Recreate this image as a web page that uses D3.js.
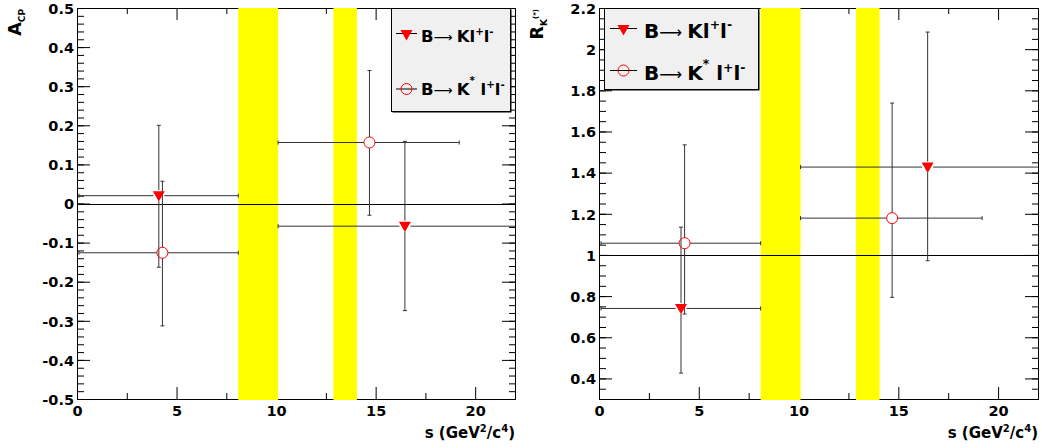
<!DOCTYPE html>
<html>
<head>
<meta charset="utf-8">
<script src="https://cdn.jsdelivr.net/npm/d3@7"></script>
<style>
  body { margin: 0; background: #fff; }
  text { font-family: "DejaVu Sans", sans-serif; font-weight: bold; }
</style>
</head>
<body>
<div id="viz"></div>
<script>
/*** data ***/
// veto bands (J/psi, psi(2S))
const vetoLo = [8.1, 12.88];
const vetoHi = [10.1, 14.06];

// bins in s
const binLo = [0.1, 10.1];
const binHiKll = [8.1, 22.9];
const binHiKst = [8.1, 19.2];
const sKll = [4.11, 16.47];
const sKst = [4.29, 14.69];

// A_CP
const acpKll = [0.02, -0.058];
const acpKllUp = [0.18, 0.217];
const acpKllDn = [0.183, 0.216];
const acpKst = [-0.126, 0.156];
const acpKstUp = [0.183, 0.184];
const acpKstDn = [0.187, 0.186];

// R_K(*)
const rKll = [0.74, 1.427];
const rKllUp = [0.395, 0.656];
const rKllDn = [0.314, 0.455];
const rKst = [1.057, 1.179];
const rKstUp = [0.478, 0.559];
const rKstDn = [0.344, 0.385];

const xMajor = [0, 5, 10, 15, 20];
const xMinor = [2.5, 7.5, 12.5, 17.5];
const acpMajor = d3.range(-5, 6).map(d => d / 10);
const acpMinor = d3.range(-25, 26).map(d => d / 50);
const rMajor = d3.range(2, 12).map(d => d / 5);
const rMinor = d3.range(6, 45).map(d => d / 20);

/*** global ***/
const width = 1042, height = 448;
const red = "#ff0000", ink = "#333";

const svg = d3.select("#viz").append("svg")
  .attr("width", width).attr("height", height);

function series(xs, lo, hi, ys, up, dn) {
  return xs.map((x, i) => ({x: x, lo: lo[i], hi: hi[i], y: ys[i], up: up[i], dn: dn[i]}));
}

function drawPanel(cfg) {
  const x = d3.scaleLinear().domain([0, 22]).range([cfg.left, cfg.right]);
  const y = d3.scaleLinear().domain(cfg.yDomain).range([cfg.bottom, cfg.top]);
  const g = svg.append("g");
  const fmt = d => String(+d.toFixed(1));

  // axes (ROOT style, ticks inside)
  g.append("g").attr("transform", `translate(0,${cfg.bottom})`)
    .call(d3.axisBottom(x).tickValues(xMajor).tickSize(-12).tickPadding(6.5).tickFormat(fmt))
    .call(a => a.select(".domain").remove())
    .call(a => a.selectAll("text").attr("font-size", 14.5).attr("fill", "#000")
      .style("font-family", "DejaVu Sans").style("font-weight", "bold"));
  g.append("g").attr("transform", `translate(0,${cfg.bottom})`)
    .call(d3.axisBottom(x).tickValues(xMinor).tickSize(-6).tickFormat(""))
    .call(a => a.select(".domain").remove());
  g.append("g").attr("transform", `translate(0,${cfg.top})`)
    .call(d3.axisTop(x).tickValues(xMajor).tickSize(-12).tickFormat(""))
    .call(a => a.select(".domain").remove());
  g.append("g").attr("transform", `translate(0,${cfg.top})`)
    .call(d3.axisTop(x).tickValues(xMinor).tickSize(-6).tickFormat(""))
    .call(a => a.select(".domain").remove());

  g.append("g").attr("transform", `translate(${cfg.left},0)`)
    .call(d3.axisLeft(y).tickValues(cfg.yMajor).tickSize(-13).tickPadding(3).tickFormat(fmt))
    .call(a => a.select(".domain").remove())
    .call(a => a.selectAll("text").attr("font-size", 14.5).attr("fill", "#000").attr("dy", "0.36em")
      .style("font-family", "DejaVu Sans").style("font-weight", "bold"));
  g.append("g").attr("transform", `translate(${cfg.left},0)`)
    .call(d3.axisLeft(y).tickValues(cfg.yMinor).tickSize(-7).tickFormat(""))
    .call(a => a.select(".domain").remove());
  g.append("g").attr("transform", `translate(${cfg.right},0)`)
    .call(d3.axisRight(y).tickValues(cfg.yMajor).tickSize(-13).tickFormat(""))
    .call(a => a.select(".domain").remove());
  g.append("g").attr("transform", `translate(${cfg.right},0)`)
    .call(d3.axisRight(y).tickValues(cfg.yMinor).tickSize(-6).tickFormat(""))
    .call(a => a.select(".domain").remove());
  g.selectAll(".tick line").attr("stroke", "#000");

  g.append("rect")
    .attr("x", cfg.left + 0.5).attr("y", cfg.top + 0.5)
    .attr("width", cfg.right - cfg.left).attr("height", cfg.bottom - cfg.top)
    .attr("fill", "none").attr("stroke", "#000");

  // yellow veto bands
  g.append("g").selectAll("rect")
    .data(d3.zip(vetoLo, vetoHi))
    .join("rect")
    .attr("x", d => x(d[0])).attr("width", d => x(d[1]) - x(d[0]))
    .attr("y", cfg.top).attr("height", cfg.bottom - cfg.top + 1)
    .attr("fill", "#ffff00");

  // reference line
  g.append("line")
    .attr("x1", cfg.left).attr("x2", cfg.right)
    .attr("y1", Math.round(y(cfg.ref)) + 0.5).attr("y2", Math.round(y(cfg.ref)) + 0.5)
    .attr("stroke", "#000");

  const clipId = "clip" + cfg.id;
  svg.append("clipPath").attr("id", clipId).append("rect")
    .attr("x", cfg.left).attr("y", cfg.top)
    .attr("width", cfg.right - cfg.left).attr("height", cfg.bottom - cfg.top);
  const plot = g.append("g").attr("clip-path", `url(#${clipId})`);

  const r = 5.5;
  function errors(data) {
    const e = plot.append("g").attr("stroke", ink).attr("stroke-width", 1);
    data.forEach(d => {
      const cx = x(d.x), cy = y(d.y);
      const segs = [
        [x(d.lo), cy, cx - r, cy], [cx + r, cy, x(d.hi), cy],
        [cx, y(d.y + d.up), cx, cy - r], [cx, cy + r, cx, y(d.y - d.dn)],
        [x(d.lo), cy - 2, x(d.lo), cy + 2], [x(d.hi), cy - 2, x(d.hi), cy + 2],
        [cx - 2, y(d.y + d.up), cx + 2, y(d.y + d.up)], [cx - 2, y(d.y - d.dn), cx + 2, y(d.y - d.dn)]
      ];
      e.selectAll(null).data(segs).join("line")
        .attr("x1", s => s[0]).attr("y1", s => s[1])
        .attr("x2", s => s[2]).attr("y2", s => s[3]);
    });
  }
  errors(cfg.kll);
  errors(cfg.kst);

  const tri = d3.symbol(d3.symbolTriangle, 62);
  plot.append("g").selectAll("path")
    .data(cfg.kll)
    .join("path")
    .attr("d", tri)
    .attr("transform", d => `translate(${x(d.x)},${y(d.y) - 1}) rotate(180)`)
    .attr("fill", red);
  plot.append("g").selectAll("circle")
    .data(cfg.kst)
    .join("circle")
    .attr("cx", d => x(d.x)).attr("cy", d => y(d.y)).attr("r", r)
    .attr("fill", "none").attr("stroke", red);

  // axis titles
  const yt = g.append("text")
    .attr("transform", `translate(${cfg.left - 56},9) rotate(-90)`)
    .attr("text-anchor", "end").attr("font-size", 17.5);
  cfg.yTitle(yt);

  const xt = g.append("text")
    .attr("x", cfg.right).attr("y", 438)
    .attr("text-anchor", "end").attr("font-size", 15);
  xt.append("tspan").text("s (GeV");
  xt.append("tspan").attr("font-size", 10).attr("dy", -6).text("2");
  xt.append("tspan").attr("dy", 6).text("/c");
  xt.append("tspan").attr("font-size", 10).attr("dy", -6).text("4");
  xt.append("tspan").attr("dy", 6).text(")");

  // legend
  const L = cfg.legend;
  const lg = g.append("g");
  lg.append("rect")
    .attr("x", L.x0 + 1.5).attr("y", L.y0 + 1.5)
    .attr("width", L.x1 - L.x0).attr("height", L.y1 - L.y0)
    .attr("fill", "#000");
  lg.append("rect")
    .attr("x", L.x0 + 0.5).attr("y", L.y0 + 0.5)
    .attr("width", L.x1 - L.x0).attr("height", L.y1 - L.y0)
    .attr("fill", "#f0f0f0").attr("stroke", "#000");
  L.rows.forEach((row, i) => {
    lg.append("line")
      .attr("x1", L.lx0).attr("x2", L.lx1)
      .attr("y1", row).attr("y2", row)
      .attr("stroke", "#000");
    const mx = (L.lx0 + L.lx1) / 2;
    if (i === 0) {
      lg.append("path").attr("d", tri)
        .attr("transform", `translate(${mx},${row}) rotate(180)`)
        .attr("fill", red);
    } else {
      lg.append("circle").attr("cx", mx).attr("cy", row).attr("r", r)
        .attr("fill", "none").attr("stroke", red);
    }
    const t = lg.append("text")
      .attr("x", L.tx).attr("y", L.base[i])
      .attr("font-size", L.fs);
    const sup = L.fs * 0.62, up = L.fs * 0.42;
    t.append("tspan").text("B");
    t.append("tspan").style("font-weight", "normal").attr("font-size", L.fs * 0.8).text("\u27F6 ");
    t.append("tspan").attr("font-size", L.fs).text("K");
    if (i === 1) {
      t.append("tspan").attr("font-size", sup).attr("dy", -up - 4).text("*");
      t.append("tspan").attr("font-size", L.fs).attr("dy", up + 4).text(" l");
    } else {
      t.append("tspan").text("l");
    }
    t.append("tspan").attr("font-size", sup).attr("dy", -up).text("+");
    t.append("tspan").attr("font-size", L.fs).attr("dy", up).text("l");
    t.append("tspan").attr("font-size", sup).attr("dy", -up).text("-");
  });
}

drawPanel({
  id: "acp", left: 77, right: 515, top: 8, bottom: 399,
  yDomain: [-0.5, 0.5], yMajor: acpMajor, yMinor: acpMinor, ref: 0,
  kll: series(sKll, binLo, binHiKll, acpKll, acpKllUp, acpKllDn),
  kst: series(sKst, binLo, binHiKst, acpKst, acpKstUp, acpKstDn),
  yTitle: t => {
    t.append("tspan").text("A");
    t.append("tspan").attr("font-size", 9).attr("dy", 4).text("CP");
  },
  legend: {x0: 391, x1: 510, y0: 8, y1: 111, lx0: 396, lx1: 417, rows: [33.5, 89],
           tx: 421, base: [41.5, 95], fs: 16.5}
});

drawPanel({
  id: "rk", left: 599, right: 1038, top: 8, bottom: 399,
  yDomain: [0.3, 2.2], yMajor: rMajor, yMinor: rMinor, ref: 1,
  kll: series(sKll, binLo, binHiKll, rKll, rKllUp, rKllDn),
  kst: series(sKst, binLo, binHiKst, rKst, rKstUp, rKstDn),
  yTitle: t => {
    t.append("tspan").text("R");
    t.append("tspan").attr("font-size", 9).attr("dy", 4).text("K");
    t.append("tspan").attr("font-size", 7).attr("dy", -9).text("(*)");
  },
  legend: {x0: 604, x1: 758, y0: 8, y1: 89, lx0: 610, lx1: 637, rows: [28.5, 70.5],
           tx: 644, base: [37.5, 80], fs: 20}
});
</script>
</body>
</html>
